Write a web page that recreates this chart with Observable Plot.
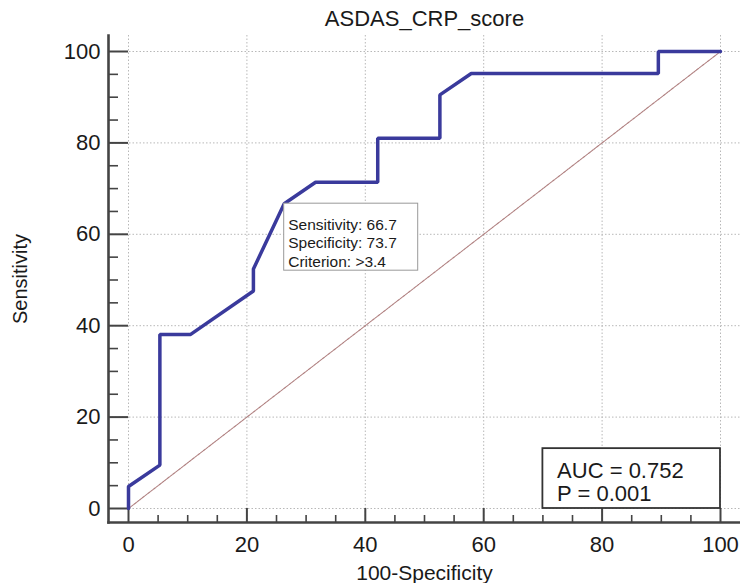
<!DOCTYPE html>
<html><head><meta charset="utf-8">
<script src="https://cdn.jsdelivr.net/npm/d3@7"></script>
<script src="https://cdn.jsdelivr.net/npm/@observablehq/plot@0.6"></script>
<style>
html,body{margin:0;padding:0;background:#fff;}
#chart{width:740px;height:583px;}
</style></head><body><div id="chart"></div>
<script>
const title = "ASDAS_CRP_score";
const xLabel = "100-Specificity";
const yLabel = "Sensitivity";
// ROC curve: 100-Specificity (x) and Sensitivity (y)
const fpr = [0, 0, 5.3, 5.3, 10.5, 21.1, 21.1, 26.3, 31.6, 42.1, 42.1, 52.6, 52.6, 57.9, 89.5, 89.5, 100];
const tpr = [0, 4.8, 9.5, 38.1, 38.1, 47.6, 52.4, 66.7, 71.4, 71.4, 81.0, 81.0, 90.5, 95.2, 95.2, 100, 100];
const diagX = [0, 100];
const diagY = [0, 100];
const majorTicks = [0, 20, 40, 60, 80, 100];
const minorTicks = [5, 10, 15, 25, 30, 35, 45, 50, 55, 65, 70, 75, 85, 90, 95];
const criterionPoint = [{x: 26.3, y: 66.7}];
const criterionLines = ["Sensitivity: 66.7", "Specificity: 73.7", "Criterion: >3.4"];
const statsLines = ["AUC = 0.752", "P = 0.001"];

const roc = fpr.map((x, i) => ({x, y: tpr[i]}));
const diag = diagX.map((x, i) => ({x, y: diagY[i]}));
const font = "'Liberation Sans', Arial, Helvetica, sans-serif";
const axisColor = "#444";
const textColor = "#1a1a1a";

const chart = Plot.plot({
  width: 740,
  height: 583,
  marginLeft: 108,
  marginRight: 0,
  marginTop: 35,
  marginBottom: 61,
  style: {fontFamily: font, background: "#fff", color: textColor},
  x: {domain: [0, 100], range: [128, 720]},
  y: {domain: [0, 100], range: [508, 51]},
  marks: [
    Plot.gridX(majorTicks, {stroke: "#b8b8b8", strokeOpacity: 1, strokeDasharray: "1.5,2"}),
    Plot.gridY(majorTicks, {stroke: "#b8b8b8", strokeOpacity: 1, strokeDasharray: "1.5,2"}),
    Plot.frame({anchor: "left", stroke: axisColor, strokeWidth: 2.6}),
    Plot.frame({anchor: "bottom", stroke: axisColor, strokeWidth: 2.6}),
    Plot.ruleX(majorTicks, {x: d => d, y1: 0, y2: 0, insetBottom: -14, stroke: axisColor, strokeWidth: 2}),
    Plot.ruleX(minorTicks, {x: d => d, y1: 0, y2: 0, insetTop: 7, insetBottom: -14, stroke: axisColor, strokeWidth: 1.6}),
    Plot.ruleY(majorTicks, {y: d => d, x1: 0, x2: 0, insetLeft: -20, stroke: axisColor, strokeWidth: 2}),
    Plot.ruleY(minorTicks, {y: d => d, x1: 0, x2: 0, insetLeft: -20, insetRight: 10, stroke: axisColor, strokeWidth: 1.6}),
    Plot.axisX(majorTicks, {tickSize: 0, tickPadding: 14, fontSize: 22, label: null, fill: textColor}),
    Plot.axisY(majorTicks, {tickSize: 0, tickPadding: 8, fontSize: 22, label: null, fill: textColor}),
    Plot.line(diag, {x: "x", y: "y", stroke: "#b08080", strokeWidth: 1.1, strokeDasharray: "2.5,1"}),
    Plot.line(roc, {x: "x", y: "y", stroke: "#3a3a9c", strokeWidth: 3.5, strokeLinejoin: "miter"}),
    Plot.rect(criterionPoint, {x1: "x", x2: "x", y1: "y", y2: "y", insetRight: -134, insetBottom: -67, fill: "white", stroke: "#999", strokeWidth: 1}),
    Plot.text(criterionPoint, {x: "x", y: "y", text: () => criterionLines.join("\n"), dx: 4, dy: 13, textAnchor: "start", lineAnchor: "top", fontSize: 15.5, lineHeight: 1.2, fill: textColor}),
    Plot.rect([0], {x1: 70, x2: 100, y1: 0, y2: 13.1, fill: "white", stroke: "#333", strokeWidth: 1.8}),
    Plot.text([statsLines.join("\n")], {x: 72.4, y: 10.3, textAnchor: "start", lineAnchor: "top", fontSize: 22, lineHeight: 1.05, fill: textColor}),
    Plot.text([title], {frameAnchor: "top", dy: -17, lineAnchor: "middle", textAnchor: "middle", fontSize: 22, fill: textColor}),
    Plot.text([xLabel], {frameAnchor: "bottom", dy: 51, lineAnchor: "middle", textAnchor: "middle", fontSize: 21, fill: textColor}),
    Plot.text([yLabel], {frameAnchor: "left", dx: -88, rotate: -90, lineAnchor: "middle", textAnchor: "middle", fontSize: 20, fill: textColor})
  ]
});
document.getElementById("chart").appendChild(chart);
</script>
</body></html>
